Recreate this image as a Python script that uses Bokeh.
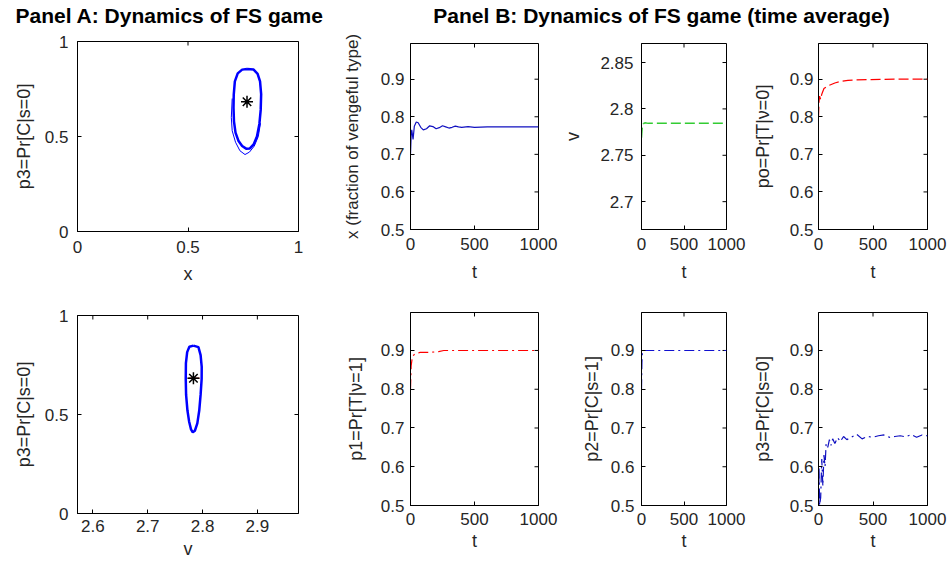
from bokeh.plotting import figure
from bokeh.layouts import column, row
from bokeh.models import Label, FixedTicker
from bokeh.embed import file_html
from bokeh.resources import INLINE

# ---------------- data ----------------
# Panel A (top): limit cycle in (x, p3)
a1_cycle_x = [0.767, 0.797, 0.815, 0.826, 0.831, 0.829, 0.823, 0.812, 0.797, 0.780, 0.763,
              0.745, 0.728, 0.715, 0.708, 0.706, 0.707, 0.712, 0.725, 0.745, 0.767]
a1_cycle_p3 = [0.855, 0.852, 0.830, 0.790, 0.723, 0.640, 0.566, 0.500, 0.458, 0.437, 0.436,
               0.450, 0.478, 0.520, 0.580, 0.650, 0.720, 0.790, 0.832, 0.852, 0.855]
a1_trans_x = [0.700, 0.696, 0.700, 0.715, 0.735, 0.758, 0.778, 0.800, 0.818, 0.828]
a1_trans_p3 = [0.700, 0.600, 0.530, 0.470, 0.425, 0.405, 0.418, 0.450, 0.500, 0.570]
a1_star_x = [0.767]
a1_star_p3 = [0.683]

# Panel A (bottom): limit cycle in (v, p3)
a2_cycle_v = [2.7834, 2.7925, 2.7965, 2.7985, 2.7984, 2.7965, 2.7940, 2.7905, 2.7860, 2.7822,
              2.7790, 2.7755, 2.7725, 2.7700, 2.7694, 2.7697, 2.7720, 2.7760, 2.7834]
a2_cycle_p3 = [0.848, 0.840, 0.800, 0.740, 0.680, 0.600, 0.520, 0.455, 0.418, 0.410,
               0.425, 0.465, 0.520, 0.600, 0.680, 0.760, 0.815, 0.842, 0.848]
a2_avg_v = [2.7745, 2.7943]
a2_avg_p3 = [0.683, 0.683]
a2_star_v = [2.7834]
a2_star_p3 = [0.683]

# Panel B: time averages
t_x = [0, 5, 10, 20, 30, 45, 60, 80, 100, 125, 150, 175, 200, 225, 250, 275, 300, 325,
       350, 375, 400, 450, 500, 600, 700, 800, 900, 1000]
x_avg = [0.700, 0.750, 0.765, 0.740, 0.775, 0.786, 0.784, 0.772, 0.765, 0.768, 0.776, 0.774,
         0.768, 0.771, 0.776, 0.773, 0.770, 0.772, 0.775, 0.773, 0.772, 0.774, 0.772, 0.773,
         0.773, 0.773, 0.773, 0.773]

t_v = [0, 5, 10, 20, 40, 80, 150, 300, 500, 1000]
v_avg = [2.769, 2.776, 2.781, 2.784, 2.785, 2.7844, 2.7844, 2.7844, 2.7844, 2.7844]

t_p0 = [0, 5, 10, 20, 30, 50, 75, 100, 150, 200, 270, 350, 480, 700, 1000]
p0_avg = [0.800, 0.840, 0.855, 0.846, 0.860, 0.875, 0.880, 0.884, 0.890, 0.894, 0.897,
          0.898, 0.899, 0.900, 0.900]

t_p1 = [0, 5, 15, 35, 75, 150, 220, 260, 400, 600, 1000]
p1_avg = [0.800, 0.860, 0.885, 0.891, 0.895, 0.895, 0.897, 0.900, 0.900, 0.900, 0.900]

t_p2 = [0, 5, 10, 20, 1000]
p2_avg = [0.800, 0.870, 0.895, 0.900, 0.900]

t_p3 = [0, 5, 10, 20, 30, 40, 50, 60, 70, 85, 100, 115, 130, 150, 175, 200, 230, 260, 300,
        350, 400, 450, 500, 550, 600, 650, 700, 750, 800, 850, 900, 950, 1000]
p3_avg = [0.450, 0.600, 0.500, 0.520, 0.620, 0.550, 0.630, 0.600, 0.660, 0.650, 0.670, 0.655,
          0.672, 0.660, 0.675, 0.665, 0.678, 0.670, 0.676, 0.684, 0.672, 0.678, 0.676, 0.680,
          0.682, 0.676, 0.678, 0.680, 0.677, 0.683, 0.676, 0.682, 0.680]

# ticks
unit_ticks = [0, 0.5, 1]
unit_tick_labels = ["0", "0.5", "1"]
v_xticks = [2.6, 2.7, 2.8, 2.9]
v_xtick_labels = ["2.6", "2.7", "2.8", "2.9"]
t_ticks = [0, 500, 1000]
t_tick_labels = ["0", "500", "1000"]
p_ticks = [0.5, 0.6, 0.7, 0.8, 0.9]
p_tick_labels = ["0.5", "0.6", "0.7", "0.8", "0.9"]
v_yticks = [2.7, 2.75, 2.8, 2.85]
v_ytick_labels = ["2.7", "2.75", "2.8", "2.85"]

title_a = "Panel A: Dynamics of FS game"
title_b = "Panel B: Dynamics of FS game (time average)"

# ---------------- styling ----------------
FONT = "Liberation Sans"
TXT = "#262626"
TICK_FS = "17px"
LAB_FS = "18px"
TICK_LEN = 4


def make_fig(w, h, l, r, t, b, xr, yr, xt, xtl, yt, ytl, xlabel, ylabel,
             xstand, xlstand, ystand, ylstand, ylab_fs=LAB_FS):
    p = figure(width=w, height=h, min_border_left=l, min_border_right=r,
               min_border_top=t, min_border_bottom=b, x_range=xr, y_range=yr,
               toolbar_location=None, output_backend="svg", title=None)
    if "frame_align" in type(p).properties():
        p.frame_align = False
    p.xgrid.visible = False
    p.ygrid.visible = False
    p.outline_line_color = "black"
    p.outline_line_width = 1
    p.outline_line_alpha = 1
    for ax, ticks, labels, stand, lab, lstand, lfs in (
            (p.xaxis[0], xt, xtl, xstand, xlabel, xlstand, LAB_FS),
            (p.yaxis[0], yt, ytl, ystand, ylabel, ylstand, ylab_fs)):
        ax.ticker = FixedTicker(ticks=ticks)
        ax.major_label_overrides = {k: s for k, s in zip(ticks, labels)}
        ax.major_tick_in = TICK_LEN
        ax.major_tick_out = 0
        ax.minor_tick_line_color = None
        ax.axis_line_color = "black"
        ax.major_tick_line_color = "black"
        ax.major_label_text_font = FONT
        ax.major_label_text_font_size = TICK_FS
        ax.major_label_text_color = TXT
        ax.major_label_standoff = stand
        ax.axis_label = lab
        ax.axis_label_text_font = FONT
        ax.axis_label_text_font_size = lfs
        ax.axis_label_text_font_style = "normal"
        ax.axis_label_text_color = TXT
        ax.axis_label_standoff = lstand
    # box ticks on top and right edges (MATLAB "box on"), derived from tick lists
    fw, fh = w - l - r, h - t - b
    dy = TICK_LEN * (yr[1] - yr[0]) / fh
    dx = TICK_LEN * (xr[1] - xr[0]) / fw
    p.segment(x0=xt, y0=[yr[1]] * len(xt), x1=xt, y1=[yr[1] - dy] * len(xt),
              line_color="black", line_width=1)
    p.segment(x0=[xr[1]] * len(yt), y0=yt, x1=[xr[1] - dx] * len(yt), y1=yt,
              line_color="black", line_width=1)
    return p


# ---------------- title strip ----------------
tfig = figure(width=949, height=28, x_range=(0, 1), y_range=(0, 1),
              toolbar_location=None, output_backend="svg", title=None,
              x_axis_location=None, y_axis_location=None, min_border=0)
tfig.outline_line_color = None
tfig.xgrid.visible = False
tfig.ygrid.visible = False
tfig.add_layout(Label(x=15, y=13, x_units="screen", y_units="screen", text=title_a,
                      text_font=FONT, text_font_size="21px", text_font_style="bold",
                      text_color="black", text_baseline="middle"))
tfig.add_layout(Label(x=661, y=13, x_units="screen", y_units="screen", text=title_b,
                      text_font=FONT, text_font_size="21px", text_font_style="bold",
                      text_color="black", text_align="center", text_baseline="middle"))

# ---------------- top row ----------------
a1 = make_fig(328, 271, 77, 30, 13, 68, (0, 1), (0, 1), unit_ticks, unit_tick_labels,
              unit_ticks, unit_tick_labels, "x", "p3=Pr[C|s=0]", 9, 8, 9, 8)
a1.line(a1_trans_x, a1_trans_p3, color="blue", line_width=1)
a1.line(a1_cycle_x, a1_cycle_p3, color="blue", line_width=2.5)
a1.scatter(a1_star_x, a1_star_p3, marker="asterisk", size=12, line_color="black", line_width=1.5)

b1 = make_fig(232, 271, 82, 22, 15, 70, (0, 1000), (0.5, 0.995), t_ticks, t_tick_labels,
              p_ticks, p_tick_labels, "t", "x (fraction of vengeful type)", 8, 9, 6, 16,
              ylab_fs="17px")
b1.line(t_x, x_avg, color="#1010c0", line_width=1.2)

b2 = make_fig(186, 271, 81, 20, 15, 70, (0, 1000), (2.67, 2.8705), t_ticks, t_tick_labels,
              v_yticks, v_ytick_labels, "t", "v", 8, 9, 8, 14)
b2.line(t_v, v_avg, color="#33cc33", line_width=1.5, line_dash="10 4")

b3 = make_fig(203, 271, 72, 22, 15, 70, (0, 1000), (0.5, 0.995), t_ticks, t_tick_labels,
              p_ticks, p_tick_labels, "t", "po=Pr[T|ν=0]", 8, 9, 5, 14)
b3.line(t_p0, p0_avg, color="red", line_width=1.2, line_dash="10 4")

# ---------------- bottom row ----------------
a2 = make_fig(328, 268, 77, 30, 16, 54, (2.572, 2.975), (0, 1), v_xticks, v_xtick_labels,
              unit_ticks, unit_tick_labels, "v", "p3=Pr[C|s=0]", 6, 4, 9, 8)
a2.line(a2_cycle_v, a2_cycle_p3, color="blue", line_width=2.5)
a2.line(a2_avg_v, a2_avg_p3, color="#a01818", line_width=1.5)
a2.scatter(a2_star_v, a2_star_p3, marker="asterisk", size=12, line_color="black", line_width=1.5)

b4 = make_fig(232, 268, 82, 22, 13, 62, (0, 1000), (0.5, 0.998), t_ticks, t_tick_labels,
              p_ticks, p_tick_labels, "t", "p1=Pr[T|ν=1]", 7, 3, 6, 12)
b4.line(t_p1, p1_avg, color="red", line_width=1.2, line_dash="10 4 2 4")

b5 = make_fig(186, 268, 81, 20, 13, 62, (0, 1000), (0.5, 0.998), t_ticks, t_tick_labels,
              p_ticks, p_tick_labels, "t", "p2=Pr[C|s=1]", 7, 3, 7, 6)
b5.line(t_p2, p2_avg, color="#1010d0", line_width=1.2, line_dash="10 4 2 4")

b6 = make_fig(203, 268, 72, 22, 13, 62, (0, 1000), (0.5, 0.998), t_ticks, t_tick_labels,
              p_ticks, p_tick_labels, "t", "p3=Pr[C|s=0]", 7, 3, 5, 14)
b6.line(t_p3, p3_avg, color="#1010c0", line_width=1.2, line_dash="10 4 2 4")

layout = column(tfig,
                row(column(a1), column(b1), column(b2), column(b3)),
                row(column(a2), column(b4), column(b5), column(b6)))

open("out.html", "w").write(file_html(layout, INLINE))
